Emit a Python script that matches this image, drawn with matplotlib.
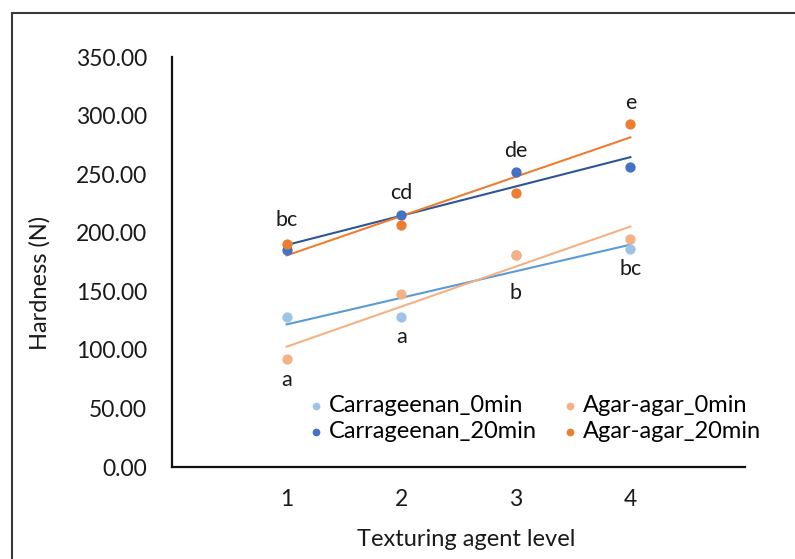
import numpy as np
import matplotlib
matplotlib.use("Agg")
import matplotlib.pyplot as plt
from matplotlib.patches import Rectangle

plt.rcParams['font.family'] = ['Lato', 'DejaVu Sans']

# data
levels = [1, 2, 3, 4]
carr_0 = [128, 128, 181, 186]
agar_0 = [92, 148, 181, 195]
carr_20 = [185, 215, 252, 256]
agar_20 = [190, 207, 234, 293]

top_letters = ['bc', 'cd', 'de', 'e']
bottom_letters = ['a', 'a', 'b', 'bc']

series = [
    ('Carrageenan_0min', carr_0, '#9DC3E6', '#5B9BD5'),
    ('Agar-agar_0min', agar_0, '#F4B183', '#F4B183'),
    ('Carrageenan_20min', carr_20, '#4472C4', '#2F5597'),
    ('Agar-agar_20min', agar_20, '#ED7D31', '#ED7D31'),
]

W, H = 795, 559
fig = plt.figure(figsize=(W / 100, H / 100), dpi=100)
ax = fig.add_axes([172 / W, 1 - 467 / H, 573 / W, 410 / H])

# outer chart frame (cropped on right and bottom in the reference)
fig.patches.append(Rectangle((12 / W, -0.1), 1.2, 1 - 13 / H + 0.1,
                             transform=fig.transFigure, fill=False,
                             edgecolor='#3a3a3a', linewidth=1.5))

x = np.array(levels, dtype=float)
handles = {}
for name, vals, mcol, lcol in series:
    y = np.array(vals, dtype=float)
    k, b = np.polyfit(x, y, 1)
    ax.plot([x[0], x[-1]], [k * x[0] + b, k * x[-1] + b], color=lcol,
            linewidth=1.5, zorder=2)
for name, vals, mcol, lcol in series:
    handles[name] = ax.scatter(x, vals, s=55, color=mcol, label=name,
                               zorder=3, linewidths=0)

# significance letters
groups = np.array([carr_0, agar_0, carr_20, agar_20], dtype=float)
top_off = [24, 22, 21, 21]
bot_off = [21, 20, 38, 20]
for i, xi in enumerate(levels):
    ax.annotate(top_letters[i], (xi, groups[:, i].max()),
                xytext=(0, top_off[i]), textcoords='offset pixels',
                ha='center', va='center', fontsize=15.5, color='#1a1a1a')
    ax.annotate(bottom_letters[i], (xi, groups[:, i].min()),
                xytext=(0, -bot_off[i]), textcoords='offset pixels',
                ha='center', va='center', fontsize=15.5, color='#1a1a1a')

ax.set_xlim(0, 5)
ax.set_ylim(0, 350)
ax.set_xticks(levels)
ax.set_yticks(np.arange(0, 351, 50))
ax.yaxis.set_major_formatter(matplotlib.ticker.FormatStrFormatter('%.2f'))
ax.tick_params(axis='both', length=0, labelsize=16.5, colors='#1a1a1a')
ax.tick_params(axis='y', pad=18)
ax.tick_params(axis='x', pad=16)

for side in ['top', 'right']:
    ax.spines[side].set_visible(False)
for side in ['left', 'bottom']:
    ax.spines[side].set_linewidth(1.6)
    ax.spines[side].set_color('#111111')

ax.set_ylabel('Hardness (N)', fontsize=17, color='#1a1a1a')
ax.yaxis.set_label_coords((40 - 172) / 573, (467 - 282.5) / 410)
ax.yaxis.label.set_va('center')
ax.set_xlabel('Texturing agent level', fontsize=17, color='#1a1a1a')
ax.xaxis.set_label_coords((466 - 172) / 573, -(540 - 467) / 410)
ax.xaxis.label.set_va('center')

order = ['Carrageenan_0min', 'Carrageenan_20min', 'Agar-agar_0min', 'Agar-agar_20min']
ax.legend([handles[n] for n in order], order, ncol=2, frameon=False,
          fontsize=17, loc='upper left',
          bbox_to_anchor=((307 - 172) / 573, (467 - 395) / 410),
          handletextpad=0.13, columnspacing=1.0, labelspacing=0.2,
          markerscale=0.75, borderaxespad=0, borderpad=0, handlelength=0.8)

fig.savefig('out.png', dpi=100)
